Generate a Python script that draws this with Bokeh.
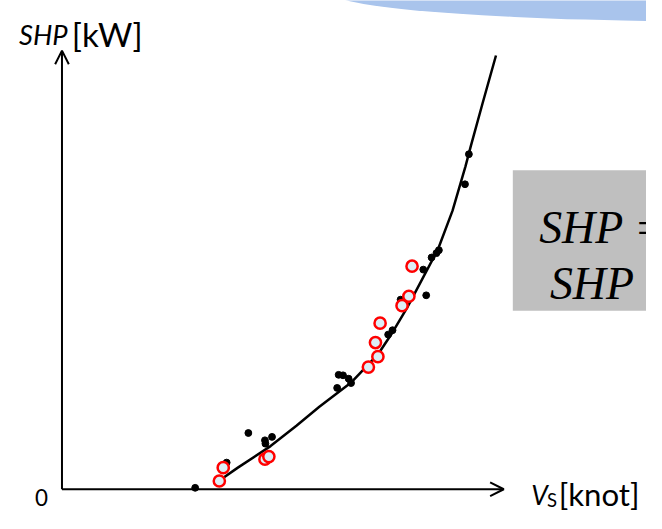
from bokeh.plotting import figure
from bokeh.models import Range1d, Arrow, OpenHead
from bokeh.core.properties import value
from bokeh.embed import file_html
from bokeh.resources import INLINE

# ---- data (ship speed V_S in knot, shaft power SHP in kW) ----
trend_speed = [6.35, 7.21, 8.55, 9.61, 10.55, 11.88, 12.95, 13.48, 14.15, 14.48,
               15.41, 16.01, 16.54, 16.75, 17.23, 17.79]
trend_shp = [146, 446, 890, 1310, 1700, 2214, 2780, 3180, 3746, 4060,
             4946, 5746, 6660, 7060, 7940, 8946]

measured_speed = [5.46, 6.75, 7.64, 8.32, 8.34, 8.61, 11.28, 11.34, 11.52, 11.75, 11.85,
                  13.37, 13.55, 13.88, 14.93, 14.81, 15.15, 15.35, 15.45, 16.52, 16.68]
measured_shp = [30, 550, 1160, 1010, 940, 1080, 2090, 2360, 2350, 2280, 2190,
                3190, 3280, 3910, 4000, 4530, 4780, 4870, 4930, 6290, 6910]

new_speed = [6.45, 6.61, 8.32, 8.48, 12.56, 12.95, 12.85, 13.04, 13.94, 14.22, 14.35]
new_shp = [170, 446, 620, 674, 2520, 2734, 3026, 3426, 3786, 3980, 4600]

axis_speed_end = 18.11
axis_shp_end = 9046

FONT = "Lato"
K = 646 / 662.0  # layout scale


def fs(px):
    return "%.1fpx" % (px * K)


p = figure(width=646, height=513, output_backend="svg", toolbar_location=None,
           x_range=Range1d(-2.52, 23.96), y_range=Range1d(-500, 10080),
           x_axis_type=None, y_axis_type=None, min_border=0,
           outline_line_color=None, background_fill_color="white",
           border_fill_color="white")
# layout coordinate system for the slide decorations and labels
p.extra_x_ranges = {"px": Range1d(0, 662)}
p.extra_y_ranges = {"px": Range1d(529, 0)}

# decorative slide shapes
p.ellipse(x=[760], y=[-8], width=[840], height=[60], x_range_name="px", y_range_name="px",
          fill_color="#a9c4ec", line_color=None)
p.quad(left=[525], right=[700], top=[175], bottom=[320], x_range_name="px", y_range_name="px",
       fill_color="#bfbfbf", line_color=None)
p.text(x=[552, 563], y=[234, 292], text=["SHP =", "SHP"], x_range_name="px", y_range_name="px",
       text_font=value("Liberation Serif"), text_font_style="italic", text_font_size=fs(47),
       text_baseline="alphabetic", text_color="black")

# axes as arrows
for xe, ye in [(axis_speed_end, 0), (0, axis_shp_end)]:
    p.add_layout(Arrow(end=OpenHead(size=14 * K, line_width=2, line_color="black"),
                       x_start=0, y_start=0, x_end=xe, y_end=ye,
                       line_width=2, line_color="black"))

# trend curve and points
p.line(trend_speed, trend_shp, line_color="black", line_width=2.5)
p.scatter(measured_speed, measured_shp, size=7 * K, fill_color="black", line_color="black")
p.scatter(new_speed, new_shp, size=11.5 * K, fill_color="#dceef6", line_color="red", line_width=2.5)

# axis labels
p.text(x=[19], y=[35], text=["SHP"], x_range_name="px", y_range_name="px",
       text_font=value(FONT), text_font_style="italic", text_font_size=fs(28),
       text_baseline="alphabetic")
p.text(x=[73], y=[35], text=["[kW]"], x_range_name="px", y_range_name="px",
       text_font=value(FONT), text_font_size=fs(34), text_baseline="alphabetic")
p.text(x=[544], y=[510], text=["V"], x_range_name="px", y_range_name="px",
       text_font=value(FONT), text_font_style="italic", text_font_size=fs(27),
       text_baseline="alphabetic")
p.text(x=[560], y=[515], text=["S"], x_range_name="px", y_range_name="px",
       text_font=value(FONT), text_font_size=fs(19), text_baseline="alphabetic")
p.text(x=[572], y=[509], text=["[knot]"], x_range_name="px", y_range_name="px",
       text_font=value(FONT), text_font_size=fs(32), text_baseline="alphabetic")
p.text(x=[42], y=[513], text=["0"], x_range_name="px", y_range_name="px",
       text_font=value(FONT), text_font_size=fs(23), text_align="center",
       text_baseline="alphabetic")

open("out.html", "w").write(file_html(p, INLINE))
